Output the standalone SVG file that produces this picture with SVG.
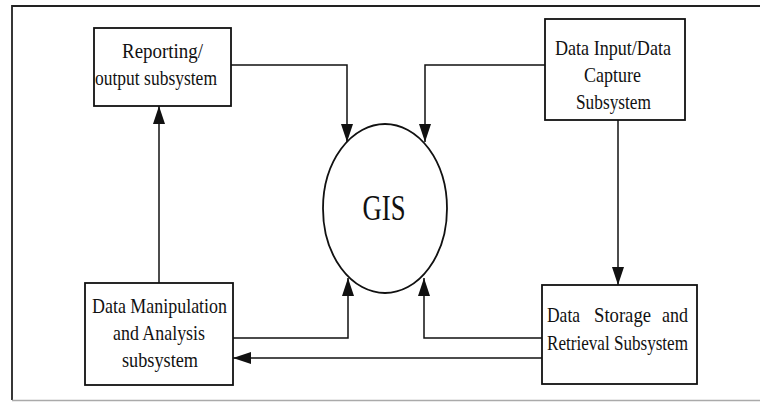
<svg xmlns="http://www.w3.org/2000/svg" width="760" height="402" viewBox="0 0 760 402">
<style>
.box{fill:#fff;stroke:#111;stroke-width:1.8}
.lbl{font-family:"Liberation Serif","Times New Roman",serif;font-size:22px;fill:#111;text-anchor:middle}
.jl{font-family:"Liberation Serif","Times New Roman",serif;font-size:22px;fill:#111}
.edge{fill:none;stroke:#111;stroke-width:1.5}
</style>
<defs>
<marker id="ah" viewBox="0 0 18 12" refX="18" refY="6" markerWidth="18" markerHeight="12" markerUnits="userSpaceOnUse" orient="auto">
<path d="M0,0 L18,6 L0,12 z" fill="#111"/>
</marker>
</defs>
<rect x="0" y="0" width="760" height="402" fill="#fff"/>
<path d="M760,6 L12,6 L12,400" fill="none" stroke="#222" stroke-width="1.8"/>
<path d="M12,400.5 L760,400.5" fill="none" stroke="#aaa" stroke-width="1.5"/>

<g id="connectors">
<path class="edge" d="M231,65 L347,65 L347,142" marker-end="url(#ah)"/>
<path class="edge" d="M545,65 L425,65 L425,142" marker-end="url(#ah)"/>
<path class="edge" d="M618,120 L618,285" marker-end="url(#ah)"/>
<path class="edge" d="M542,338 L424,338 L424,278" marker-end="url(#ah)"/>
<path class="edge" d="M233,338 L348,338 L348,278" marker-end="url(#ah)"/>
<path class="edge" d="M542,358 L233,358" marker-end="url(#ah)"/>
<path class="edge" d="M159,283 L159,106" marker-end="url(#ah)"/>
</g>

<g id="gis">
<ellipse cx="385" cy="208.5" rx="62" ry="84.5" fill="#fff" stroke="#111" stroke-width="1.8"/>
<text x="384" y="220" class="lbl" style="font-size:35px" textLength="43" lengthAdjust="spacingAndGlyphs">GIS</text>
</g>

<g id="reporting">
<rect class="box" x="94" y="28" width="137" height="78"/>
<text class="lbl" x="162.5" y="58" textLength="81" lengthAdjust="spacingAndGlyphs">Reporting/</text>
<text class="lbl" x="156" y="85" textLength="122" lengthAdjust="spacingAndGlyphs">output subsystem</text>
</g>

<g id="data-input">
<rect class="box" x="545" y="19" width="140" height="101"/>
<text class="lbl" x="613" y="55" textLength="116" lengthAdjust="spacingAndGlyphs">Data Input/Data</text>
<text class="lbl" x="612.5" y="82" textLength="57" lengthAdjust="spacingAndGlyphs">Capture</text>
<text class="lbl" x="613.5" y="109" textLength="75" lengthAdjust="spacingAndGlyphs">Subsystem</text>
</g>

<g id="manipulation">
<rect class="box" x="85" y="283" width="148" height="102"/>
<text class="lbl" x="159.5" y="313" textLength="135" lengthAdjust="spacingAndGlyphs">Data Manipulation</text>
<text class="lbl" x="159" y="340" textLength="92" lengthAdjust="spacingAndGlyphs">and Analysis</text>
<text class="lbl" x="160" y="367" textLength="76" lengthAdjust="spacingAndGlyphs">subsystem</text>
</g>

<g id="storage">
<rect class="box" x="542" y="285" width="155" height="99"/>
<text class="jl" y="322"><tspan x="547" textLength="33" lengthAdjust="spacingAndGlyphs">Data</tspan><tspan x="594" textLength="57" lengthAdjust="spacingAndGlyphs">Storage</tspan><tspan x="662" textLength="26" lengthAdjust="spacingAndGlyphs">and</tspan></text>
<text class="jl" x="547" y="350" textLength="141" lengthAdjust="spacingAndGlyphs">Retrieval Subsystem</text>
</g>
</svg>
